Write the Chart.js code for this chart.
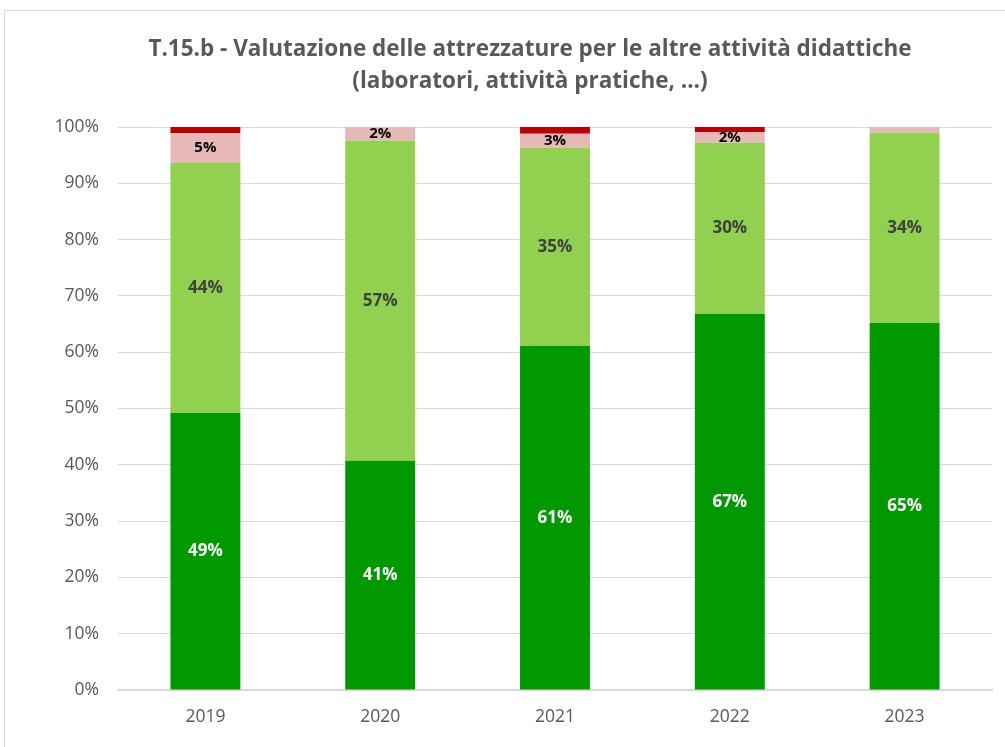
<!DOCTYPE html>
<html>
<head>
<meta charset="utf-8">
<script src="https://cdn.jsdelivr.net/npm/chart.js@4"></script>
<style>
  body { margin: 0; background: #fff; }
  #wrap { position: relative; width: 1005px; height: 747px; }
  #frame { position: absolute; left: 4px; top: 10px; width: 1010px; height: 750px; border: 1px solid #d9d9d9; }
  canvas { position: absolute; left: 0; top: 0; }
</style>
</head>
<body>
<div id="wrap">
  <div id="frame"></div>
  <canvas id="myChart" width="1005" height="747"></canvas>
</div>
<script>
const years = ["2019", "2020", "2021", "2022", "2023"];
const ottimo = [49.2, 40.7, 61.1, 66.8, 65.2];
const buono = [44.4, 56.9, 35.2, 30.4, 33.8];
const scarso = [5.3, 2.4, 2.5, 1.9, 1.0];
const pessimo = [1.1, 0, 1.2, 0.9, 0];
const yTicks = [0, 10, 20, 30, 40, 50, 60, 70, 80, 90, 100];
const titleLines = ["T.15.b - Valutazione delle attrezzature per le altre attività didattiche", "(laboratori, attività pratiche, …)"];

const FONT = "'Open Sans', 'Noto Sans', sans-serif";

// labels inside the bars
const barLabels = {
  id: "barLabels",
  afterDatasetsDraw(chart) {
    const ctx = chart.ctx;
    chart.data.datasets.forEach((ds, i) => {
      if (!ds.labelColor) return;
      const meta = chart.getDatasetMeta(i);
      meta.data.forEach((bar, j) => {
        const v = ds.data[j];
        if (v < ds.minLabel) return;
        ctx.save();
        ctx.fillStyle = ds.labelColor;
        ctx.font = "bold " + ds.labelSize + "px " + FONT;
        ctx.textAlign = "center";
        ctx.textBaseline = "middle";
        ctx.fillText(Math.round(v) + "%", bar.x, (bar.y + bar.base) / 2);
        ctx.restore();
      });
    });
  },
};

// title drawn by hand, it is not centred on the canvas
const chartTitle = {
  id: "chartTitle",
  afterDraw(chart) {
    const ctx = chart.ctx;
    ctx.save();
    ctx.fillStyle = "#595959";
    ctx.font = "bold 22.5px " + FONT;
    ctx.textAlign = "center";
    ctx.textBaseline = "middle";
    ctx.fillText(titleLines[0], 530, 50);
    ctx.fillText(titleLines[1], 530, 82);
    ctx.restore();
  },
};

const config = {
  type: "bar",
  data: {
    labels: years,
    datasets: [
      { label: "Ottimo", data: ottimo, backgroundColor: "#009900", labelColor: "#ffffff", labelSize: 17, minLabel: 0 },
      { label: "Buono", data: buono, backgroundColor: "#92d050", labelColor: "#404040", labelSize: 17, minLabel: 0 },
      { label: "Scarso", data: scarso, backgroundColor: "#e6b9b8", labelColor: "#000000", labelSize: 15, minLabel: 1.5 },
      { label: "Pessimo", data: pessimo, backgroundColor: "#c00000" },
    ],
  },
  options: {
    responsive: false,
    animation: false,
    categoryPercentage: 1,
    barPercentage: 0.4,
    layout: { padding: { left: 10, right: 13, top: 127, bottom: 0 } },
    plugins: {
      legend: { display: false },
      tooltip: { enabled: false },
      title: { display: false },
    },
    scales: {
      x: {
        stacked: true,
        grid: { display: false, drawTicks: false },
        border: { color: "#d9d9d9", width: 2 },
        ticks: { color: "#595959", font: { family: FONT, size: 17.5 }, padding: 17 },
        afterFit(scale) { scale.height = 57; },
      },
      y: {
        stacked: true,
        min: 0,
        max: 100,
        afterBuildTicks(scale) { scale.ticks = yTicks.map(v => ({ value: v })); },
        grid: { color: "#d9d9d9", drawTicks: false },
        border: { display: false },
        ticks: { color: "#595959", font: { family: FONT, size: 17.5 }, padding: 19, callback: v => v + "%" },
        afterFit(scale) { scale.width = 108; },
      },
    },
  },
  plugins: [barLabels, chartTitle],
};

const myChart = new Chart(document.getElementById("myChart"), config);
</script>
</body>
</html>
